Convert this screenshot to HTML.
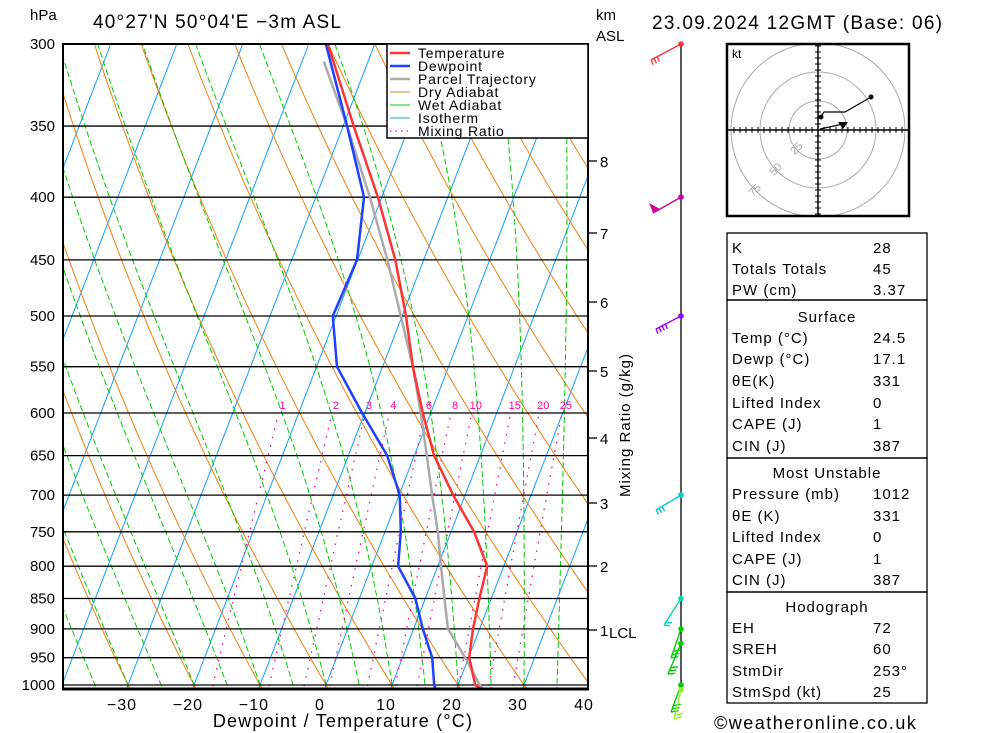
<!DOCTYPE html>
<html><head><meta charset="utf-8"><style>
body{margin:0;background:#fff;width:1000px;height:733px;overflow:hidden}
svg{display:block}
text{font-family:"Liberation Sans","DejaVu Sans",sans-serif;fill:#000}
</style></head><body>
<svg id="chart" width="1000" height="733" viewBox="0 0 1000 733">
<defs><clipPath id="plotclip"><rect x="63" y="44" width="525" height="645"/></clipPath>
<clipPath id="hodoclip"><rect x="727" y="44" width="182" height="172"/></clipPath></defs>
<g id="bg" clip-path="url(#plotclip)"></g>
<g id="grid"></g>
<g id="series" clip-path="url(#plotclip)"></g>
<rect x="63" y="44" width="525" height="645" fill="none" stroke="#000" stroke-width="2"/>
<line x1="62" y1="689" x2="589" y2="689" stroke="#000" stroke-width="3"/>
<text x="30" y="20" font-size="15">hPa</text>
<text x="93" y="28" font-size="19" letter-spacing="1.2">40°27'N  50°04'E  −3m  ASL</text>
<text x="596" y="20" font-size="15">km</text>
<text x="596" y="41" font-size="15">ASL</text>
<text x="652" y="29" font-size="19" letter-spacing="1.3">23.09.2024  12GMT  (Base: 06)</text>
<text x="343" y="727" font-size="18" letter-spacing="1.2" text-anchor="middle">Dewpoint  /  Temperature  (°C)</text>
<text transform="translate(630,425) rotate(-90)" font-size="15" letter-spacing="1" text-anchor="middle">Mixing  Ratio  (g/kg)</text>
<g id="legend">
<rect x="387" y="44" width="201" height="94" fill="#fff" stroke="#000" stroke-width="1.5"/>
</g>
<g id="km"></g>
<g id="wind">
<line x1="681" y1="44" x2="681" y2="690" stroke="#000" stroke-width="1.3"/>
</g>
<g id="hodo">
<rect x="727" y="44" width="182" height="172" fill="#fff" stroke="none"/>
<text x="732" y="58" font-size="12">kt</text>
</g>
<rect x="727" y="44" width="182" height="172" fill="none" stroke="#000" stroke-width="2.5"/>
<g id="table"></g>
<text x="714" y="729" font-size="18" letter-spacing="1.5">©weatheronline.co.uk</text>
</svg>
<script>
// ---- data ----
const pressures=[1012,1000,950,900,850,800,750,700,650,600,550,500,450,400,350,300];
const temps=[24.5,22.6,20.1,19.0,18.2,17.5,13.5,8.2,3.0,-1.2,-5.4,-9.4,-14.3,-20.6,-28.4,-37.1];
const dewps=[17.1,16.4,14.5,11.4,8.5,4.0,2.4,0.1,-4.1,-10.4,-16.9,-20.5,-20.1,-22.7,-29.4,-37.4];
const parcelP=[1012,1000,950,900,850,800,750,700,650,600,550,500,450,400,350,310];
const parcelT=[24.5,23.3,19.5,15.2,12.9,10.5,8.0,5.0,1.9,-1.5,-5.4,-10.2,-15.5,-21.8,-29.4,-36.7];
const pLevels=[300,350,400,450,500,550,600,650,700,750,800,850,900,950,1000];
const tTicks=[-30,-20,-10,0,10,20,30,40];
const mixRatios=[1,2,3,4,6,8,10,15,20,25];
const kmTicks=[1,2,3,4,5,6,7,8];
const kmY=[630,566,503,438,371,302,233,161];
const windLevels=[300,400,500,700,850,900,925,1000,1012];

const NS='http://www.w3.org/2000/svg';
function el(tag,attrs,parent,txt){const e=document.createElementNS(NS,tag);for(const k in attrs)e.setAttribute(k,attrs[k]);if(txt!==undefined)e.textContent=txt;parent.appendChild(e);return e;}
function yP(p){return 44+641*Math.log(p/300)/Math.log(1000/300);}
function xT(T,p){return 326+6.6*T+0.385*(685-yP(p));}
function pathFrom(pts){return pts.map((q,i)=>(i?'L':'M')+q[0].toFixed(1)+','+q[1].toFixed(1)).join('');}
const bg=document.getElementById('bg');

for(let T=-140;T<=60;T+=10){
  const l=el('line',{x1:xT(T,1050),y1:yP(1050),x2:xT(T,290),y2:yP(290),stroke:'#10a0ff','stroke-width':1},bg);
  
  
}
for(let T0=-100;T0<=220;T0+=10){
  const th=T0+273.15,pts=[];
  for(let p=1050;p>=290;p-=10){pts.push([xT(th*Math.pow(p/1000,0.286)-273.15,p),yP(p)]);}
  const e=el('path',{d:pathFrom(pts),fill:'none',stroke:'#f08010','stroke-width':1},bg);
  
  
}
function es(T){return 6.112*Math.exp(17.67*T/(T+243.5));}
function mgrad(T,p){const Tk=T+273.15,rs=0.622*es(T)/(p-es(T)),Lv=2.5e6,Rd=287,cp=1005;
  return (Rd*Tk+Lv*rs)/(p*(cp+Lv*Lv*rs*0.622/(Rd*Tk*Tk)));}
for(let T0=-45;T0<=45;T0+=5){
  let Tb=T0;for(let p=1000;p<1050;p+=5){Tb+=mgrad(Tb,p)*5;}
  let T=Tb,pts=[];
  for(let p=1050;p>=290;p-=5){pts.push([xT(T,p),yP(p)]);T-=mgrad(T,p)*5;}
  const e=el('path',{d:pathFrom(pts),fill:'none',stroke:'#00cc00','stroke-width':1,'stroke-dasharray':'6,3'},bg);
  
  
}
function tdW(w,p){const e=w*p/(622+w),l=Math.log(e/6.112);return 243.5*l/(17.67-l);}
mixRatios.forEach(w=>{
  const pts=[];for(let p=1050;p>=600;p-=10)pts.push([xT(tdW(w,p),p),yP(p)]);
  const e=el('path',{d:pathFrom(pts),fill:'none',stroke:'#ff0099','stroke-width':1.3,'stroke-dasharray':'1.5,7'},bg);
  
  
});
const svg=document.getElementById('chart');
mixRatios.forEach(w=>{
  const t=el('text',{x:xT(tdW(w,600),600)+4,y:409,'font-size':11,'text-anchor':'middle',style:'fill:#ff0099'},svg,String(w));
  
  
});
const grid=document.getElementById('grid');
pLevels.forEach(p=>{
  const y=yP(p);
  const l=el('line',{x1:63,y1:y,x2:588,y2:y,stroke:'#000','stroke-width':1.3},grid);
  
  
  const t=el('text',{x:55,y:y+5,'font-size':15,'text-anchor':'end'},grid,String(p));
  
  
});
tTicks.forEach(T=>{
  const t=el('text',{x:xT(T,1000)-6,y:710,'font-size':16,'text-anchor':'middle','letter-spacing':1},grid,(T<0?'\u2212'+(-T):String(T)));
  
  
});
const series=document.getElementById('series');
function line(P,V,color,w,name){
  const pts=P.map((p,i)=>[xT(V[i],p),yP(p)]);
  const e=el('path',{d:pathFrom(pts),fill:'none',stroke:color,'stroke-width':w,'stroke-linejoin':'round'},series);
  
  
}
line(parcelP,parcelT,'#aaaaaa',2.5,'parcel-trajectory-line');
line(pressures,dewps,'#2040ff',2.5,'dewpoint-line');
line(pressures,temps,'#ff3333',2.5,'temperature-line');
const lg=document.getElementById('legend');
[['Temperature','#ff3333',2.5,''],['Dewpoint','#2040ff',2.5,''],['Parcel Trajectory','#aaaaaa',2.5,''],['Dry Adiabat','#f08010',1,''],['Wet Adiabat','#00cc00',1,''],['Isotherm','#10a0ff',1,''],['Mixing Ratio','#ff0099',1.3,'1.5,4']].forEach((d,i)=>{
  const y=53+i*13;
  const l=el('line',{x1:390,y1:y,x2:410,y2:y,stroke:d[1],'stroke-width':d[2],'stroke-dasharray':d[3]||'none'},lg);
  
  
  const t=el('text',{x:418,y:y+5,'font-size':14,'letter-spacing':0.8},lg,d[0]);
  
  
});
const km=document.getElementById('km');
kmTicks.forEach((k,i)=>{
  el('line',{x1:588,y1:kmY[i],x2:597,y2:kmY[i],stroke:'#000','stroke-width':1.3},km);
  const t=el('text',{x:600,y:kmY[i]+6,'font-size':15},km,String(k));
  
  
});
el('text',{x:609,y:638,'font-size':15},km,'LCL');
const wind=document.getElementById('wind');
const barbColors=['#ff3333','#cc0099','#9900ff','#00cccc','#00ddaa','#00cc00','#00cc00','#00cc00','#99ee33'];
const barbEnd=[[651,60],[653,213],[656,329],[656,510],[664,625],[671,658],[668,674],[671,712],[674,719]];
const barbCount=[3,0,4,3,2,3,3,3,2];
windLevels.forEach((p,i)=>{
  const y=i==0?44:(i==8?690:yP(p)),c=barbColors[i],[ex,ey]=barbEnd[i];
  el('line',{x1:681,y1:y,x2:ex,y2:ey,stroke:c,'stroke-width':1.4},wind);
  const dx=(681-ex),dy=(y-ey),L=Math.hypot(dx,dy),ux=dx/L,uy=dy/L;
  if(barbCount[i]==0){el('polygon',{points:`${ex},${ey} ${ex+ux*8},${ey+uy*8} ${ex-4},${ey-10}`,fill:c},wind);}
  for(let b=0;b<barbCount[i];b++){
    const bx=ex+ux*b*3.5,by=ey+uy*b*3.5;
    el('line',{x1:bx,y1:by,x2:bx-uy*11-3,y2:by+ux*11-5,stroke:c,'stroke-width':1.4},wind);
  }
  const d=el('circle',{cx:681,cy:y,r:2.8,fill:c},wind);
  
  
});
const hodo=document.getElementById('hodo'),cx=818,cy=130;
const hc=el('g',{'clip-path':'url(#hodoclip)'},hodo);
[29,58,87].forEach(r=>el('circle',{cx:cx,cy:cy,r:r,fill:'none',stroke:'#aaa','stroke-width':1},hc));
el('line',{x1:728,y1:cy,x2:908,y2:cy,stroke:'#000','stroke-width':1.5},hodo);
el('line',{x1:cx,y1:45,x2:cx,y2:215,stroke:'#000','stroke-width':1.5},hodo);
for(let d=-84;d<=84;d+=6){if(!d)continue;
  el('line',{x1:cx+d,y1:cy-3,x2:cx+d,y2:cy+3,stroke:'#000'},hodo);
  if(Math.abs(d)<=84)el('line',{x1:cx-3,y1:cy+d,x2:cx+3,y2:cy+d,stroke:'#000'},hodo);}
[['25',29],['50',58],['75',87]].forEach(a=>{const px=cx-a[1]*0.72+2,py=cy+a[1]*0.72;el('text',{x:px,y:py,'font-size':11,'text-anchor':'middle',transform:`rotate(-45 ${px} ${py})`,style:'fill:#aaa'},hodo,a[0]);});
el('path',{d:'M821,117 L824,112 L845,112 L871,97',fill:'none',stroke:'#000','stroke-width':1.2},hodo);
el('circle',{cx:821,cy:117,r:2.5,fill:'#000'},hodo);
el('circle',{cx:871,cy:97,r:2.5,fill:'#000'},hodo);
el('line',{x1:820,y1:129,x2:843,y2:124,stroke:'#000','stroke-width':1.2},hodo);
el('polygon',{points:'838,122 848,122 843,129',fill:'#000'},hodo);
const tb=document.getElementById('table');
[[233,300],[300,458],[458,592],[592,703]].forEach(s=>el('rect',{x:727,y:s[0],width:200,height:s[1]-s[0],fill:'none',stroke:'#000','stroke-width':1.3},tb));
const rows=[[253,'K','28'],[274,'Totals Totals','45'],[295,'PW (cm)','3.37'],[322,'Surface',null],[343,'Temp (°C)','24.5'],[364,'Dewp (°C)','17.1'],[386,'θE(K)','331'],[408,'Lifted Index','0'],[429,'CAPE (J)','1'],[451,'CIN (J)','387'],[478,'Most Unstable',null],[499,'Pressure (mb)','1012'],[521,'θE (K)','331'],[542,'Lifted Index','0'],[564,'CAPE (J)','1'],[585,'CIN (J)','387'],[612,'Hodograph',null],[633,'EH','72'],[654,'SREH','60'],[676,'StmDir','253°'],[697,'StmSpd (kt)','25']];
rows.forEach(r=>{
  if(r[2]===null){const t=el('text',{x:827,y:r[0],'font-size':15,'text-anchor':'middle','letter-spacing':1},tb,r[1]);return;}
  const t=el('text',{x:732,y:r[0],'font-size':15,'letter-spacing':1},tb,r[1]);
  
  
  const v=el('text',{x:873,y:r[0],'font-size':15,'letter-spacing':1},tb,r[2]);
  
  
});
</script>
</body></html>
